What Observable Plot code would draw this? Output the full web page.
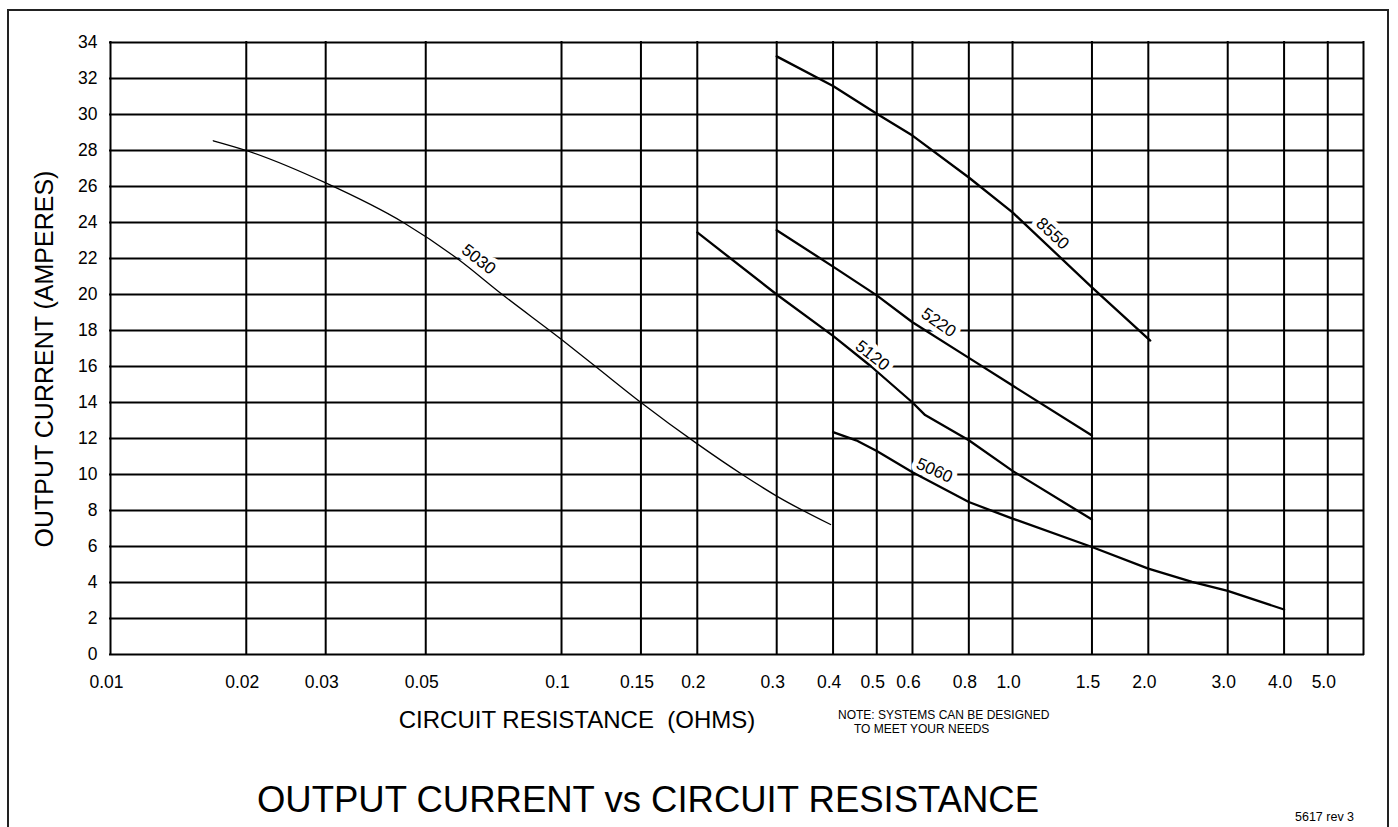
<!DOCTYPE html>
<html>
<head>
<meta charset="utf-8">
<script src="https://cdn.jsdelivr.net/npm/d3@7"></script>
<script src="https://cdn.jsdelivr.net/npm/@observablehq/plot@0.6"></script>
<style>
  body { margin: 0; background: #fff; font-family: "Liberation Sans", Arial, sans-serif; color: #000; }
  #wrap { position: relative; width: 1398px; height: 827px; overflow: hidden; background: #fff; }
  #chart { position: absolute; left: 0; top: 0; }
  #frame { position: absolute; left: 7px; top: 9px; width: 1382px; height: 900px; border: 2px solid #222; box-sizing: border-box; pointer-events: none; }
  .t { position: absolute; white-space: nowrap; line-height: 1; }
  .c { transform: translate(-50%, -50%); }
</style>
</head>
<body>
<div id="wrap">
  <div id="chart"></div>
  <div id="frame"></div>
  <div class="t c" style="left:44px; top:359px; font-size:25px; transform: translate(-50%,-50%) rotate(-90deg);">OUTPUT CURRENT (AMPERES)</div>
  <div class="t c" style="left:577px; top:720px; font-size:24px;">CIRCUIT RESISTANCE&nbsp;&nbsp;(OHMS)</div>
  <div class="t" style="left:838px; top:709px; font-size:12px;">NOTE: SYSTEMS CAN BE DESIGNED</div>
  <div class="t" style="left:854px; top:723px; font-size:12px;">TO MEET YOUR NEEDS</div>
  <div class="t c" style="left:648px; top:800px; font-size:36.5px;">OUTPUT CURRENT vs CIRCUIT RESISTANCE</div>
  <div class="t" style="left:1295px; top:811px; font-size:12.5px;">5617 rev 3</div>
</div>
<script>
// ---- axes ----
const xDomain = [0.01, 6];
const yDomain = [0, 34];
const xGrid = [0.01, 0.02, 0.03, 0.05, 0.1, 0.15, 0.2, 0.3, 0.4, 0.5, 0.6, 0.8, 1, 1.5, 2, 3, 4, 5, 6];
const xTicks = [0.01, 0.02, 0.03, 0.05, 0.1, 0.15, 0.2, 0.3, 0.4, 0.5, 0.6, 0.8, 1, 1.5, 2, 3, 4, 5];
const xTickLabels = ["0.01", "0.02", "0.03", "0.05", "0.1", "0.15", "0.2", "0.3", "0.4", "0.5", "0.6", "0.8", "1.0", "1.5", "2.0", "3.0", "4.0", "5.0"];
const yTicks = [0, 2, 4, 6, 8, 10, 12, 14, 16, 18, 20, 22, 24, 26, 28, 30, 32, 34];

// ---- series: resistance (ohms) / output current (amperes) ----
const r5030 = [0.0169, 0.02, 0.03, 0.0446, 0.0587, 0.0739, 0.1, 0.119, 0.15, 0.2, 0.2516, 0.3, 0.395];
const i5030 = [28.54, 28.0, 26.2, 24.0, 22.0, 20.0, 17.5, 16.0, 14.0, 11.7, 10.0, 8.8, 7.22];

const r5120 = [0.2, 0.3, 0.4, 0.486, 0.6, 0.64, 0.8, 1.0, 1.5];
const i5120 = [23.45, 20.0, 17.7, 16.0, 14.0, 13.3, 11.9, 10.2, 7.5];

const r5220 = [0.3, 0.4, 0.5, 0.6, 0.8, 1.0, 1.5];
const i5220 = [23.57, 21.55, 19.95, 18.46, 16.48, 14.94, 12.17];

const r8550 = [0.3, 0.4, 0.5, 0.6, 0.8, 1.0, 1.5, 2.02];
const i8550 = [33.23, 31.58, 30.04, 28.83, 26.5, 24.56, 20.4, 17.44];

const r5060 = [0.4, 0.45, 0.5, 0.6, 0.8, 1.0, 1.5, 2.0, 2.5, 3.0, 4.0];
const i5060 = [12.35, 11.9, 11.3, 10.13, 8.47, 7.55, 5.97, 4.77, 4.03, 3.53, 2.5];

// ---- curve labels ----
const labelNames = ["5030", "5220", "5120", "5060", "8550"];
const labelR = [0.0655, 0.686, 0.489, 0.671, 1.227];
const labelI = [21.95, 18.44, 16.61, 10.23, 23.38];
const labelAngle = [38, 35, 38, 24, 43];

// ---- build tables ----
const toRows = (model, rs, is) => rs.map((r, k) => ({model, r, i: is[k]}));
const thin = toRows("5030", r5030, i5030);
const thick = [
  ...toRows("5120", r5120, i5120),
  ...toRows("5220", r5220, i5220),
  ...toRows("8550", r8550, i8550),
  ...toRows("5060", r5060, i5060)
];
const labels = labelNames.map((name, k) => ({name, r: labelR[k], i: labelI[k], a: labelAngle[k]}));
const xTickRows = xTicks.map((v, k) => ({v, label: xTickLabels[k]}));

const font = '"Liberation Sans", Arial, sans-serif';
const chart = Plot.plot({
  width: 1398,
  height: 700,
  marginLeft: 110,
  marginRight: 35,
  marginTop: 42,
  marginBottom: 46,
  style: {fontFamily: font, fontSize: "17.5px", background: "transparent", color: "#000", overflow: "visible"},
  x: {type: "log", domain: xDomain, label: null, axis: null},
  y: {domain: yDomain, label: null},
  marks: [
    Plot.ruleX(xGrid, {stroke: "#000", strokeWidth: 2, strokeLinecap: "square"}),
    Plot.ruleY(yTicks, {stroke: "#000", strokeWidth: 2, strokeLinecap: "square"}),
    Plot.text(xTickRows, {x: "v", text: "label", frameAnchor: "bottom", lineAnchor: "middle", dy: 28, dx: -4, fontSize: 17.5, fill: "#000"}),
    Plot.axisY({ticks: yTicks, tickSize: 0, tickPadding: 13, label: null, fontSize: 17.5}),
    Plot.text(labels, {x: "r", y: "i", text: "name", rotate: "a", fontSize: 17, fill: "white", stroke: "white", strokeWidth: 10, strokeLinejoin: "round"}),
    Plot.line(thin, {x: "r", y: "i", z: "model", stroke: "#000", strokeWidth: 1.3, curve: "monotone-x"}),
    Plot.line(thick, {x: "r", y: "i", z: "model", stroke: "#000", strokeWidth: 2.3, curve: "linear"}),
    Plot.text(labels, {x: "r", y: "i", text: "name", rotate: "a", fontSize: 17, fill: "#000"})
  ]
});
document.getElementById("chart").appendChild(chart);
</script>
</body>
</html>
